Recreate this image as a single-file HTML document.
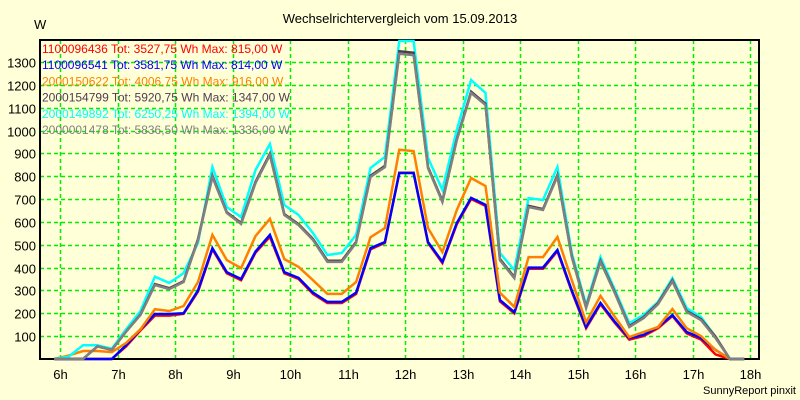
<!DOCTYPE html>
<html><head><meta charset="utf-8"><style>
html,body{margin:0;padding:0;background:#ffffd8;}
svg{display:block;font-family:"Liberation Sans",Arial,sans-serif;}
</style></head><body>
<svg id="chart" width="800" height="400" viewBox="0 0 800 400" xmlns="http://www.w3.org/2000/svg">
<rect x="0" y="0" width="800" height="400" fill="#ffffd8"/>
<text x="400" y="23" text-anchor="middle" font-size="13" fill="#000">Wechselrichtervergleich vom 15.09.2013</text>
<text x="34" y="29" font-size="13" fill="#000">W</text>
<text x="796" y="394" text-anchor="end" font-size="11" fill="#000">SunnyReport pinxit</text>
<g id="grid"></g>
<g id="axes"></g>
<g id="series"></g>
<g id="legend"></g>
</svg>
<script>
const hourTicks = [6,7,8,9,10,11,12,13,14,15,16,17,18];
const valueTicks = [100,200,300,400,500,600,700,800,900,1000,1100,1200,1300];
const times = [];
for (let k = 0; k < 49; k++) times.push(5.9 + 0.25 * k);
const seriesNames = ["1100096436 Tot: 3527,75 Wh Max: 815,00 W","1100096541 Tot: 3581,75 Wh Max: 814,00 W","2000150622 Tot: 4006,75 Wh Max: 916,00 W","2000154799 Tot: 5920,75 Wh Max: 1347,00 W","2000149892 Tot: 6250,25 Wh Max: 1394,00 W","2000001478 Tot: 5836,50 Wh Max: 1336,00 W"];
const seriesColors = ["#ff0000","#0000ff","#ff8000","#503c50","#00ffff","#808080"];
const redValues = [0,0,0,0,0,55,125,190,190,198,295,480,375,345,465,535,375,350,285,245,245,285,480,508,815,815,508,420,590,700,670,252,200,395,395,472,295,135,240,158,85,100,135,188,112,85,20,0,0];
const blueValues = [0,0,0,0,0,60,130,197,197,200,300,485,380,350,470,543,380,355,290,250,250,290,485,512,814,814,512,425,595,705,675,258,205,400,400,477,300,140,245,162,92,105,140,192,118,92,40,0,0];
const orangeValues = [0,15,35,35,30,70,130,218,210,232,337,543,433,398,538,613,437,403,345,285,285,337,533,573,916,910,573,468,652,792,757,290,228,446,446,534,345,160,276,184,96,118,140,219,135,100,40,0,0];
const darkGreyValues = [0,0,0,55,40,120,195,328,310,340,525,802,642,595,775,898,634,590,525,430,430,512,802,845,1347,1340,840,692,962,1170,1117,438,358,670,656,805,450,227,430,292,144,183,244,345,210,174,98,0,0];
const cyanValues = [0,10,60,60,45,130,210,360,333,376,508,840,665,621,827,941,674,630,551,455,464,543,836,884,1394,1394,880,740,1002,1221,1164,464,390,704,696,840,464,236,446,302,157,193,250,354,223,184,96,0,0];
const greyValues = [0,0,0,55,40,120,193,324,306,337,521,797,639,591,770,893,630,586,521,425,425,508,797,840,1336,1330,836,687,958,1164,1112,433,354,665,652,800,446,223,425,288,140,179,240,340,206,170,92,0,0];
const allSeries = [redValues,blueValues,orangeValues,cyanValues,darkGreyValues,greyValues];
const drawColors = ["#ff0000","#0000ff","#ff8000","#00ffff","#503c50","#808080"];
const drawNames = ["series-1100096436","series-1100096541","series-2000150622","series-2000149892","series-2000154799","series-2000001478"];

const L=40,R=759,T=40,B=359;
function xScale(h){return 60 + (h-6)*57.5;}
function yScale(v){return Math.max(T+1, B - v*0.2285);}
const NS="http://www.w3.org/2000/svg";
function mk(tag,attrs,parent){const e=document.createElementNS(NS,tag);for(const k in attrs)e.setAttribute(k,attrs[k]);parent.appendChild(e);return e;}
const grid=document.getElementById('grid'),axes=document.getElementById('axes'),series=document.getElementById('series'),legend=document.getElementById('legend');
valueTicks.forEach(v=>{
  const y=Math.round(yScale(v))+0.5;
  const l=mk('line',{x1:L,x2:R,y1:y,y2:y,stroke:'#00ee00','stroke-width':1.5,'stroke-dasharray':'4,3'},grid);
  
  
  const t=mk('text',{x:36,y:y+5,'text-anchor':'end','font-size':13,fill:'#000'},axes);
  t.textContent=v;
  
  
});
hourTicks.forEach(h=>{
  const x=Math.round(xScale(h))+0.5;
  const l=mk('line',{x1:x,x2:x,y1:T,y2:B,stroke:'#00ee00','stroke-width':1.5,'stroke-dasharray':'4,3'},grid);
  
  
  const t=mk('text',{x:x,y:379,'text-anchor':'middle','font-size':13,fill:'#000'},axes);
  t.textContent=h+'h';
  
  
});
const frame=mk('path',{d:`M${L},${T} H${R} V${B} H${L} Z`,fill:'none',stroke:'#000','stroke-width':2},axes);


allSeries.forEach((vals,i)=>{
  const pts=vals.map((v,k)=>xScale(times[k]).toFixed(1)+','+yScale(v).toFixed(1)).join(' ');
  const p=mk('polyline',{points:pts,fill:'none',stroke:drawColors[i],'stroke-width':2.5,'stroke-linejoin':'miter'},series);
  
  
});
seriesNames.forEach((n,i)=>{
  const t=mk('text',{x:42,y:53+i*16.2,'font-size':12,fill:seriesColors[i]},legend);
  t.textContent=n;
  
  
});
</script>
</body></html>
